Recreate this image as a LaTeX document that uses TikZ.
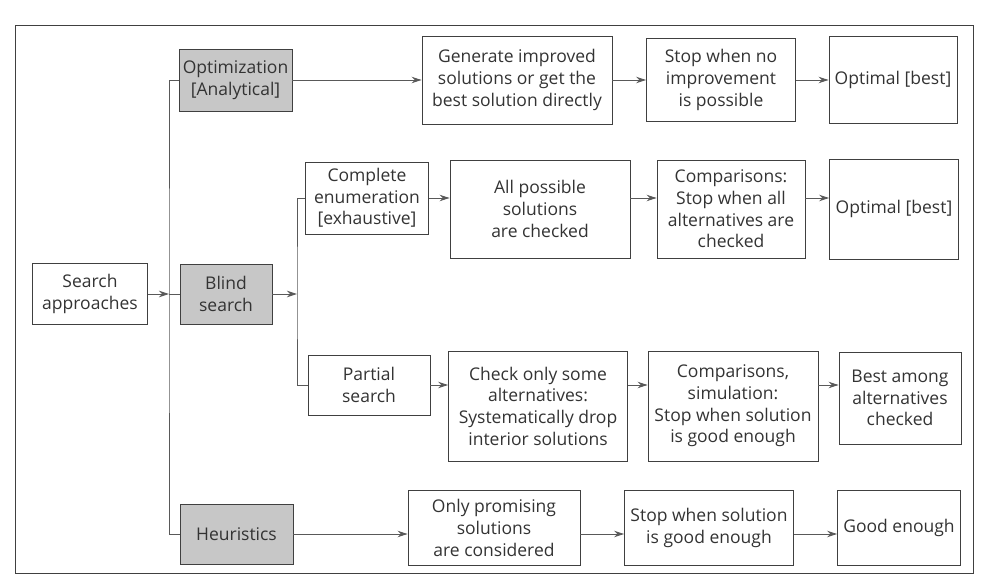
\documentclass[tikz,border=0pt]{standalone}
\usepackage{fontspec}
\setmainfont{Open Sans}
\usetikzlibrary{arrows.meta}
\begin{document}
\begin{tikzpicture}[x=1pt,y=-1pt,
  box/.style={draw=black!75, line width=0.9pt, align=center, inner sep=1pt,
    text=black!80, font=\fontsize{17.5}{21.7}\selectfont},
  gbox/.style={box, fill=black!22},
  conn/.style={draw=black!65, line width=0.9pt},
  arr/.style={conn, -{Stealth[length=10pt,width=6.5pt]}},
]
\useasboundingbox (0,0) rectangle (988,585);
\draw[black!75, line width=0.9pt] (15,25) rectangle (973,573);

% left column
\node[box, minimum width=115pt, minimum height=61pt] (search) at (90,294) {Search\\approaches};
\node[gbox, minimum width=113pt, minimum height=62pt] (opt) at (235.5,80) {Optimization\\{[Analytical]}};
\node[gbox, minimum width=92pt, minimum height=60pt] (blind) at (226,294) {Blind\\search};
\node[gbox, minimum width=113pt, minimum height=60pt] (heur) at (236.5,534) {Heuristics};

% row 1
\node[box, minimum width=190pt, minimum height=88pt] (gen) at (517,80) {Generate improved\\solutions or get the\\best solution directly};
\node[box, minimum width=149pt, minimum height=83pt] (stopa) at (721,80) {Stop when no\\improvement\\is possible};
\node[box, minimum width=128pt, minimum height=87pt] (opta) at (893,80) {Optimal [best]};

% row 2
\node[box, minimum width=123pt, minimum height=72pt] (compl) at (367,198) {Complete\\enumeration\\{[exhaustive]}};
\node[box, minimum width=180pt, minimum height=98pt] (all) at (540,209) {All possible\\solutions\\are checked};
\node[box, minimum width=148pt, minimum height=98pt] (compb) at (731,209) {Comparisons:\\Stop when all\\alternatives are\\checked};
\node[box, minimum width=129pt, minimum height=100pt] (optb) at (894,209) {Optimal [best]};

% row 3
\node[box, minimum width=122pt, minimum height=60pt] (part) at (369,385) {Partial\\search};
\node[box, minimum width=179pt, minimum height=110pt] (check) at (538,406) {Check only some\\alternatives:\\Systematically drop\\interior solutions};
\node[box, minimum width=170pt, minimum height=110pt] (compc) at (733,406) {Comparisons,\\simulation:\\Stop when solution\\is good enough};
\node[box, minimum width=122pt, minimum height=92pt] (best) at (900,398) {Best among\\alternatives\\checked};

% row 4
\node[box, minimum width=172pt, minimum height=75pt] (only) at (494,528) {Only promising\\solutions\\are considered};
\node[box, minimum width=169pt, minimum height=75pt] (stopd) at (709,528) {Stop when solution\\is good enough};
\node[box, minimum width=123pt, minimum height=75pt] (good) at (899,528) {Good enough};

% junctions
\coordinate (j1) at (169,294);
\coordinate (j2) at (297,294);

% brackets
\draw[arr] (search.east) -- (j1);
\draw[conn] (opt.west) -| (j1) |- (heur.west);
\draw[conn] (j1) -- (blind.west);
\draw[arr] (blind.east) -- (j2);
\draw[conn] (compl.west) -| (j2) |- (part.west);

% row 1 arrows
\draw[arr] (opt.east) -- (gen.west);
\draw[arr] (gen.east) -- (stopa.west);
\draw[arr] (stopa.east) -- (opta.west);

% row 2 arrows
\draw[arr] (compl.east) -- (compl.east -| all.west);
\draw[arr] (all.east |- compl.east) -- (compb.west |- compl.east);
\draw[arr] (compb.east |- compl.east) -- (optb.west |- compl.east);

% row 3 arrows
\draw[arr] (part.east) -- (part.east -| check.west);
\draw[arr] (check.east |- part.east) -- (compc.west |- part.east);
\draw[arr] (compc.east |- part.east) -- (best.west |- part.east);

% row 4 arrows
\draw[arr] (heur.east) -- (heur.east -| only.west);
\draw[arr] (only.east |- heur.east) -- (stopd.west |- heur.east);
\draw[arr] (stopd.east |- heur.east) -- (good.west |- heur.east);
\end{tikzpicture}
\end{document}
